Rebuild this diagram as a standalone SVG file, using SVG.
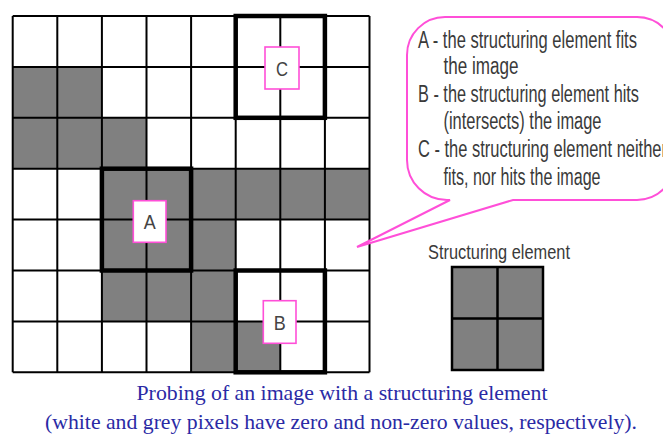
<svg xmlns="http://www.w3.org/2000/svg" width="663" height="436" viewBox="0 0 663 436">
<style>
.grey{fill:#808080}
.grid{fill:none;stroke:#000;stroke-width:2}
.thick{fill:none;stroke:#000;stroke-width:4.5}
.lbl{fill:#fff;stroke:#ff4fd8;stroke-width:1.6}
.lt{font-family:"Liberation Sans",Arial,sans-serif;font-size:21px;fill:#444;text-anchor:middle}
.ct{font-family:"Liberation Sans",Arial,sans-serif;font-size:23px;fill:#3a3a3a}
.st{font-family:"Liberation Sans",Arial,sans-serif;font-size:20px;fill:#3a3a3a}
.cap{font-family:"Liberation Serif","Times New Roman",serif;font-size:22px;fill:#2a2aa5;text-anchor:middle}
</style>
<rect width="663" height="436" fill="#fff"/>
<g id="image-grid">
<rect class="grey" x="12.7" y="66.9" width="89.2" height="50.9"/>
<rect class="grey" x="12.7" y="117.8" width="133.8" height="50.9"/>
<rect class="grey" x="101.9" y="168.7" width="267.6" height="50.9"/>
<rect class="grey" x="101.9" y="219.6" width="133.8" height="50.9"/>
<rect class="grey" x="101.9" y="270.5" width="133.8" height="50.9"/>
<rect class="grey" x="191.1" y="321.4" width="89.2" height="50.9"/>
<path class="grid" d="M12.7 16V372.3M57.3 16V372.3M101.9 16V372.3M146.5 16V372.3M191.1 16V372.3M235.7 16V372.3M280.3 16V372.3M324.9 16V372.3M369.5 16V372.3M12.7 16H369.5M12.7 66.9H369.5M12.7 117.8H369.5M12.7 168.7H369.5M12.7 219.6H369.5M12.7 270.5H369.5M12.7 321.4H369.5M12.7 372.3H369.5"/>
</g>
<g id="probe-C">
<rect class="thick" x="235.7" y="16" width="89.2" height="101.8"/>
<rect class="lbl" x="265" y="47" width="34" height="42"/>
<text class="lt" x="282" y="75.5" textLength="12" lengthAdjust="spacingAndGlyphs">C</text>
</g>
<g id="probe-A">
<rect class="thick" x="101.9" y="168.7" width="89.2" height="101.8"/>
<rect class="lbl" x="133.3" y="200.7" width="32.7" height="41.6"/>
<text class="lt" x="149.7" y="229" textLength="12" lengthAdjust="spacingAndGlyphs">A</text>
</g>
<g id="probe-B">
<rect class="thick" x="235.7" y="270.5" width="89.2" height="101.8"/>
<rect class="lbl" x="263.3" y="300.7" width="32.7" height="42.6"/>
<text class="lt" x="279.7" y="329.5" textLength="12" lengthAdjust="spacingAndGlyphs">B</text>
</g>
<g id="callout">
<path d="M445 17H637A38 38 0 0 1 675 55V162A38 38 0 0 1 637 200H513L357 247L450 200H447A40 40 0 0 1 407 160V55A38 38 0 0 1 445 17Z" fill="#fff" stroke="#ff4fd8" stroke-width="2"/>
<text class="ct" x="418" y="48" textLength="219" lengthAdjust="spacingAndGlyphs">A - the structuring element fits</text>
<text class="ct" x="443.5" y="74" textLength="75" lengthAdjust="spacingAndGlyphs">the image</text>
<text class="ct" x="418" y="102" textLength="221" lengthAdjust="spacingAndGlyphs">B - the structuring element hits</text>
<text class="ct" x="443.5" y="129" textLength="158" lengthAdjust="spacingAndGlyphs">(intersects) the image</text>
<text class="ct" x="418" y="157" textLength="249" lengthAdjust="spacingAndGlyphs">C - the structuring element neither</text>
<text class="ct" x="443.5" y="185" textLength="157" lengthAdjust="spacingAndGlyphs">fits, nor hits the image</text>
</g>
<g id="structuring-element">
<text class="st" x="428" y="259" textLength="142" lengthAdjust="spacingAndGlyphs">Structuring element</text>
<rect x="452" y="267" width="91" height="103" fill="#808080" stroke="#000" stroke-width="2.5"/>
<path d="M497.5 267V370M452 318.5H543" stroke="#000" stroke-width="2.5" fill="none"/>
</g>
<g id="caption">
<text class="cap" x="342" y="400" textLength="411" lengthAdjust="spacingAndGlyphs">Probing of an image with a structuring element</text>
<text class="cap" x="341" y="429" textLength="592" lengthAdjust="spacingAndGlyphs">(white and grey pixels have zero and non-zero values, respectively).</text>
</g>
</svg>
